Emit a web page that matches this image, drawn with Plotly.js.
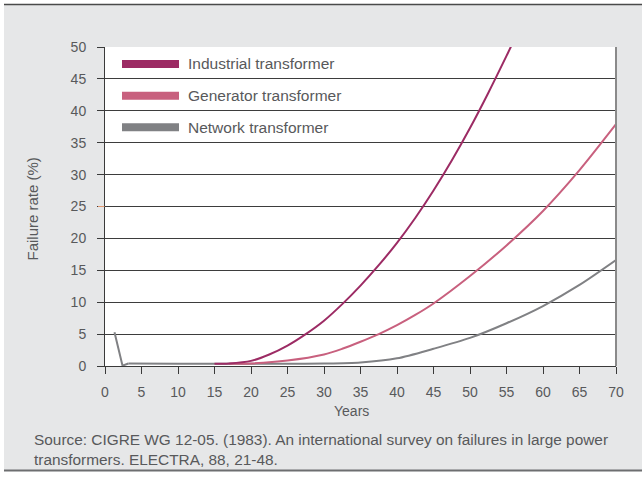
<!DOCTYPE html>
<html>
<head>
<meta charset="utf-8">
<script src="https://cdn.plot.ly/plotly-3.0.1.min.js"></script>
<style>
  html, body { margin: 0; padding: 0; background: #ffffff; }
  #chart { width: 642px; height: 483px; }
</style>
</head>
<body>
<div id="chart"></div>
<script>
// ---- Data ----
var seriesNames = ["Industrial transformer", "Generator transformer", "Network transformer"];

var industrialYears = [15, 17, 20, 22.5, 25, 27.5, 30, 32.5, 35, 37.5, 40, 42.5, 45, 47.5, 50, 52.5, 55, 56];
var industrialRate  = [0.35, 0.4, 0.8, 1.8, 3.2, 5.0, 7.1, 9.7, 12.6, 15.8, 19.3, 23.2, 27.5, 32.2, 37.3, 42.8, 48.6, 51];

var generatorYears = [17, 20, 25, 30, 32.5, 35, 37.5, 40, 42.5, 45, 50, 55, 60, 65, 70];
var generatorRate  = [0.35, 0.4, 0.85, 1.8, 2.7, 3.8, 5.0, 6.4, 8.0, 9.8, 14.1, 18.9, 24.3, 30.7, 37.9];

var networkStartYears = [1.3, 2.4, 3.2];
var networkStartRate  = [5.3, 0.05, 0.4];
var networkYears = [3.2, 10, 15, 20, 25, 30, 35, 40, 45, 50, 55, 60, 65, 70];
var networkRate  = [0.4, 0.37, 0.35, 0.35, 0.35, 0.38, 0.55, 1.2, 2.7, 4.4, 6.7, 9.4, 12.7, 16.6];

var xTickValues = [0, 5, 10, 15, 20, 25, 30, 35, 40, 45, 50, 55, 60, 65, 70];
var yTickValues = [0, 5, 10, 15, 20, 25, 30, 35, 40, 45, 50];

var xTitle = "Years";
var yTitle = "Failure rate (%)";
var sourceText = "Source: CIGRE WG 12-05. (1983). An international survey on failures in large power<br>transformers. ELECTRA, 88, 21-48.";

// ---- Styling ----
var colors = ["#9c2b64", "#c8607e", "#808184"];
var FONT = "Liberation Sans, Arial, Helvetica, sans-serif";
var TXT = "#58595b";

var W = 642, H = 483;
var M = {l: 105, r: 26, t: 47, b: 117};
var PW = W - M.l - M.r, PH = H - M.t - M.b;
function px(x) { return (x - M.l) / PW; }
function py(y) { return (H - M.b - y) / PH; }

var traces = [
  {x: networkStartYears, y: networkStartRate, mode: "lines", line: {color: colors[2], width: 2}, showlegend: false, hoverinfo: "skip"},
  {x: networkYears, y: networkRate, name: seriesNames[2], mode: "lines", line: {color: colors[2], width: 2, shape: "spline", smoothing: 0.8}, showlegend: false},
  {x: generatorYears, y: generatorRate, name: seriesNames[1], mode: "lines", line: {color: colors[1], width: 2, shape: "spline", smoothing: 0.8}, showlegend: false},
  {x: industrialYears, y: industrialRate, name: seriesNames[0], mode: "lines", line: {color: colors[0], width: 2, shape: "spline", smoothing: 0.8}, showlegend: false}
];

var shapes = [
  {type: "rect", xref: "paper", yref: "paper", x0: px(0), x1: px(W), y0: py(0), y1: py(4), fillcolor: "#ffffff", line: {width: 0}},
  {type: "rect", xref: "paper", yref: "paper", x0: px(0), x1: px(4), y0: py(0), y1: py(H), fillcolor: "#ffffff", line: {width: 0}},
  {type: "rect", xref: "paper", yref: "paper", x0: px(0), x1: px(W), y0: py(471), y1: py(H), fillcolor: "#ffffff", line: {width: 0}},
  {type: "line", xref: "paper", yref: "paper", x0: px(4), x1: px(W), y0: py(4.5), y1: py(4.5), line: {color: "#4a4a4a", width: 1.5}},
  {type: "line", xref: "paper", yref: "paper", x0: px(4), x1: px(W), y0: py(470.5), y1: py(470.5), line: {color: "#6d6e70", width: 2}},
  {type: "line", xref: "paper", yref: "paper", x0: 1, x1: 1, y0: 0, y1: 1, line: {color: "#8a8a8a", width: 2}},
  {type: "line", xref: "paper", yref: "y", x0: px(98), x1: px(104.5), y0: 25, y1: 25, line: {color: "#e39a72", width: 1}}
];

var annotations = [
  {xref: "paper", yref: "paper", x: px(351), y: py(410.5), text: xTitle, showarrow: false, xanchor: "center", yanchor: "middle", font: {family: FONT, size: 14, color: TXT}},
  {xref: "paper", yref: "paper", x: px(31.5), y: py(209), text: yTitle, showarrow: false, textangle: -90, xanchor: "center", yanchor: "middle", font: {family: FONT, size: 15, color: TXT}},
  {xref: "paper", yref: "paper", x: px(32), y: py(449), text: sourceText, showarrow: false, xanchor: "left", yanchor: "middle", align: "left", font: {family: FONT, size: 15.4, color: TXT}}
];

var legendY = [64, 95.7, 127.3];
for (var i = 0; i < seriesNames.length; i++) {
  shapes.push({type: "line", xref: "paper", yref: "paper", x0: px(122), x1: px(179), y0: py(legendY[i]), y1: py(legendY[i]), line: {color: colors[i], width: 8}});
  annotations.push({xref: "paper", yref: "paper", x: px(186), y: py(legendY[i]), text: seriesNames[i], showarrow: false, xanchor: "left", yanchor: "middle", font: {family: FONT, size: 15.5, color: TXT}});
}

var layout = {
  width: W, height: H,
  margin: M,
  paper_bgcolor: "#e6e7e8",
  plot_bgcolor: "#ffffff",
  showlegend: false,
  font: {family: FONT, size: 14, color: TXT},
  xaxis: {
    range: [0, 70], tickvals: xTickValues, ticktext: xTickValues.map(String),
    showgrid: false, zeroline: false, showline: true, linecolor: "#3a3a3a", linewidth: 1,
    ticks: "outside", ticklen: 7, tickcolor: "#3a3a3a", tickwidth: 1, ticklabelstandoff: 6,
    tickfont: {family: FONT, size: 14, color: TXT}, fixedrange: true
  },
  yaxis: {
    range: [0, 50], tickvals: yTickValues, ticktext: yTickValues.map(String),
    showgrid: true, gridcolor: "#3d3d3d", gridwidth: 1, zeroline: false,
    showline: true, linecolor: "#3a3a3a", linewidth: 1,
    ticks: "outside", ticklen: 7, tickcolor: "#3a3a3a", tickwidth: 1, ticklabelstandoff: 8,
    tickfont: {family: FONT, size: 14, color: TXT}, fixedrange: true
  },
  shapes: shapes,
  annotations: annotations
};

Plotly.newPlot("chart", traces, layout, {displayModeBar: false, staticPlot: true});
</script>
</body>
</html>
